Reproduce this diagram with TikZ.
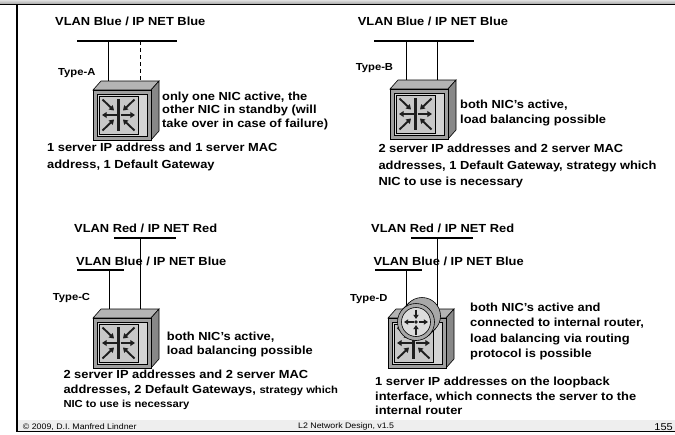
\documentclass[tikz,border=0pt]{standalone}
\usepackage{fontspec}
\setmainfont{Liberation Sans}[FakeStretch=1.1]
\usetikzlibrary{arrows.meta,calc}

\definecolor{cubetop}{HTML}{B4B4B4}
\definecolor{cubefront}{HTML}{A0A0A0}
\definecolor{cubeside}{HTML}{888888}
\definecolor{panel}{HTML}{D4D4D4}
\definecolor{iconbg}{HTML}{C8C8C8}
\definecolor{ink}{HTML}{1E1E1E}
\definecolor{ringgray}{HTML}{A8A8A8}
\definecolor{routerface}{HTML}{DCDCDC}
\definecolor{footband}{HTML}{EEEEEE}

\tikzset{
  big/.style={anchor=base west,inner sep=0pt,font=\fontsize{11.7}{14}\selectfont\bfseries},
  small/.style={anchor=base west,inner sep=0pt,font=\fontsize{10.2}{12}\selectfont\bfseries},
  foot/.style={anchor=base west,inner sep=0pt,font=\fontsize{8}{10}\selectfont},
  net/.style={line width=2.6pt},
  drop/.style={line width=0.9pt},
  standby/.style={drop,dash pattern=on 4pt off 3pt},
  arr/.style={ink,line width=1.9pt,-{Triangle[length=4.6pt,width=5.8pt]}},
  rarr/.style={ink,line width=1.6pt,-{Triangle[length=4.2pt,width=5.2pt]}},
  pics/switchbox/.style={code={
    \draw[line width=0.6pt,fill=cubetop] (0,0) -- (8,-9) -- (66,-9) -- (58,0) -- cycle;
    \draw[line width=0.6pt,fill=cubeside] (58,0) -- (66,-9) -- (66,41) -- (58,50) -- cycle;
    \draw[line width=0.6pt,fill=cubefront] (0,0) rectangle (58,50);
    \draw[line width=0.5pt,fill=panel] (4,4) rectangle (54,46);
    \draw[line width=0.9pt,fill=iconbg] (6,6) rectangle (45,44);
    \draw[ink,line width=2.4pt] (25.5,9) -- (25.5,41);
    \draw[arr] (23.5,25) -- (9,25);
    \draw[arr] (27.5,25) -- (42,25);
    \draw[arr] (9.5,9.5) -- (21,20.5);
    \draw[arr] (41.5,9.5) -- (30,20.5);
    \draw[arr] (9.5,40.5) -- (21,29.5);
    \draw[arr] (41.5,40.5) -- (30,29.5);
  }},
  pics/router/.style={code={
    \draw[line width=0.6pt,fill=ringgray] (6,-6) circle[radius=18.5pt];
    \fill[ringgray] (13.08,13.08) -- (19.08,7.08) -- (-7.08,-19.08) -- (-13.08,-13.08) -- cycle;
    \draw[line width=0.6pt] (13.08,13.08) -- (19.08,7.08);
    \draw[line width=0.6pt] (-13.08,-13.08) -- (-7.08,-19.08);
    \draw[line width=0.6pt,fill=ringgray] (0,0) circle[radius=18.5pt];
    \draw[line width=0.6pt,fill=routerface] (0,0) circle[radius=14.5pt];
    \draw[rarr] (-2.5,0) -- (-12,0);
    \draw[rarr] (2.5,0) -- (12,0);
    \draw[rarr] (0,-12.5) -- (0,-3);
    \draw[rarr] (0,12.5) -- (0,3);
    \fill[ink] (0,0) circle[radius=1.8pt];
  }},
}

\begin{document}
\begin{tikzpicture}[x=1pt,y=-1pt]
\useasboundingbox (0,0) rectangle (675,434);

% slide frame
\shade[top color=gray!25,bottom color=gray!65] (0,0) rectangle (675,3.6);
\draw[line width=1.3pt] (0,4.2) -- (675,4.2);
\fill[footband] (17,420) rectangle (675,431);
\draw[line width=1.2pt] (17,4) -- (17,432);
\draw[line width=1.4pt] (17,431.6) -- (675,431.6);

% ---------- Type-A ----------
\node[big] (tA) at (55,25.2) {VLAN Blue / IP NET Blue};
\coordinate (netA) at (127,41);
\draw[net] (77,41) -- (177,41);
\coordinate (A1) at (108,81);
\coordinate (A2) at (140,81);
\draw[drop] (A1 |- netA) -- (A1);
\draw[standby] (A2 |- netA) -- (A2);
\node[small] (typeA) at (58,75.5) {Type-A};
\pic at (93,90) {switchbox};
\node[big] (dA1) at (162,100) {only one NIC active, the};
\node[big] (dA2) at (162,113.7) {other NIC in standby (will};
\node[big] (dA3) at (162,127.4) {take over in case of failure)};
\node[big] (bA1) at (47,151.5) {1 server IP address and 1 server MAC};
\node[big] (bA2) at (47,168.5) {address, 1 Default Gateway};

% ---------- Type-B ----------
\node[big] (tB) at (357.7,25.2) {VLAN Blue / IP NET Blue};
\coordinate (netB) at (424,41);
\draw[net] (374,41) -- (474,41);
\coordinate (B1) at (406,80);
\coordinate (B2) at (437,80);
\draw[drop] (B1 |- netB) -- (B1);
\draw[drop] (B2 |- netB) -- (B2);
\node[small] (typeB) at (355.7,70) {Type-B};
\pic at (390,89) {switchbox};
\node[big] (dB1) at (460,108.2) {both NIC’s active,};
\node[big] (dB2) at (460,123.2) {load balancing possible};
\node[big] (bB1) at (378.3,152.5) {2 server IP addresses and 2 server MAC};
\node[big] (bB2) at (378.3,169.2) {addresses, 1 Default Gateway, strategy which};
\node[big] (bB3) at (378.3,185.9) {NIC to use is necessary};

% ---------- Type-C ----------
\node[big] (tCr) at (74,232.5) {VLAN Red / IP NET Red};
\node[big] (tCb) at (76,265.2) {VLAN Blue / IP NET Blue};
\coordinate (netCr) at (145,238);
\coordinate (netCb) at (100,270);
\draw[net] (114,238) -- (176,238);
\draw[net] (77,270) -- (124,270);
\coordinate (C1) at (109,309);
\coordinate (C2) at (140,309);
\draw[drop] (C1 |- netCb) -- (C1);
\draw[drop] (C2 |- netCr) -- (C2);
\node[small] (typeC) at (52.7,300) {Type-C};
\pic at (93,318) {switchbox};
\node[big] (dC1) at (166.7,340.2) {both NIC’s active,};
\node[big] (dC2) at (166.7,354.9) {load balancing possible};
\node[big] (bC1) at (63.3,378.2) {2 server IP addresses and 2 server MAC};
\node[big] (bC2) at (63.3,393.5) {addresses, 2 Default Gateways, {\fontsize{10.2}{12}\selectfont strategy which}};
\node[small] (bC3) at (63.3,407.6) {NIC to use is necessary};

% ---------- Type-D ----------
\node[big] (tDr) at (371,232.5) {VLAN Red / IP NET Red};
\node[big] (tDb) at (373.3,265.2) {VLAN Blue / IP NET Blue};
\coordinate (netDr) at (442,238);
\coordinate (netDb) at (398,270);
\draw[net] (411,238) -- (473,238);
\draw[net] (375,270) -- (422,270);
\coordinate (D1) at (406,315);
\coordinate (D2) at (437,315);
\draw[drop] (D1 |- netDb) -- (D1);
\draw[drop] (D2 |- netDr) -- (D2);
\node[small] (typeD) at (350,301.7) {Type-D};
\pic at (388,318) {switchbox};
\pic at (416,322) {router};
\node[big] (dD1) at (470,311.5) {both NIC’s active and};
\node[big] (dD2) at (470,326.9) {connected to internal router,};
\node[big] (dD3) at (470,342.2) {load balancing via routing};
\node[big] (dD4) at (470,357.5) {protocol is possible};
\node[big] (bD1) at (375,385.9) {1 server IP addresses on the loopback};
\node[big] (bD2) at (375,400.9) {interface, which connects the server to the};
\node[big] (bD3) at (375,414.9) {internal router};

% footer
\node[foot] (fl) at (22.7,429) {© 2009, D.I. Manfred Lindner};
\node[foot] (fc) at (298,428.8) {L2 Network Design, v1.5};
\node[anchor=base east,inner sep=0pt,font=\fontsize{10}{12}\selectfont] (fr) at (673,430.3) {155};
\end{tikzpicture}
\end{document}
